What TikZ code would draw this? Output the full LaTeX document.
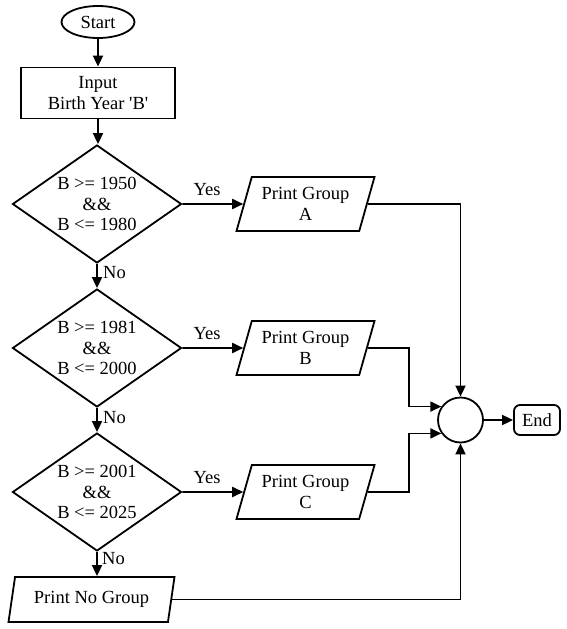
\documentclass[tikz,border=0pt]{standalone}
\usepackage{fontspec}
\setmainfont{Liberation Serif}
\usetikzlibrary{shapes.geometric,arrows.meta,calc}
\begin{document}
\begin{tikzpicture}[x=1pt,y=-1pt,
  every node/.style={font=\fontsize{18.5}{20.5}\selectfont, align=center},
  base/.style={draw, line width=1.8pt, inner sep=0pt},
  term/.style={base, ellipse, minimum width=73pt, minimum height=32pt},
  procbox/.style={base, rectangle, minimum width=154pt, minimum height=51pt},
  decision/.style={base, diamond, aspect=1.43, inner sep=-6pt, minimum width=169pt, minimum height=118pt},
  io/.style={base, trapezium, trapezium left angle=65, trapezium right angle=115,
    trapezium stretches body, minimum height=54pt, minimum width=138pt},
  ionone/.style={base, trapezium, trapezium left angle=68, trapezium right angle=112,
    trapezium stretches body, minimum height=45pt, minimum width=166pt},
  joinc/.style={base, circle, minimum size=45pt},
  endbox/.style={base, rectangle, rounded corners=6pt, minimum width=46pt, minimum height=30pt},
  conn/.style={line width=1.8pt, -{Triangle[length=11pt,width=10pt]}},
  lbl/.style={inner sep=0pt}
]
\useasboundingbox (0,0) rectangle (566,629);

\node[term] (start) at (98,22) {Start};
\node[procbox] (input) at (98,93) {Input\\Birth Year \textquotesingle B\textquotesingle};
\node[decision] (d1) at (97,204) {B >= 1950\\\&\&\\B <= 1980};
\node[decision] (d2) at (97,348) {B >= 1981\\\&\&\\B <= 2000};
\node[decision] (d3) at (97,492) {B >= 2001\\\&\&\\B <= 2025};
\node[io] (pA) at (305.5,204) {Print Group\\A};
\node[io] (pB) at (305.5,348) {Print Group\\B};
\node[io] (pC) at (305.5,492) {Print Group\\C};
\node[ionone] (pn) at (91.5,599.5) {Print No Group};
\node[joinc] (circ) at (460.5,420) {};
\node[endbox] (end) at (537,420) {End};

\coordinate (jB) at (409,0);

\draw[conn] (start) -- (input);
\draw[conn] (input.south) -- (input.south |- d1.north);
\draw[conn] (d1) -- (d2);
\draw[conn] (d2) -- (d3);
\draw[conn] (d3.south) -- (d3.south |- pn.north);

\draw[conn] (d1.east) -- (pA.west);
\draw[conn] (d2.east) -- (pB.west);
\draw[conn] (d3.east) -- (pC.west);

\node[lbl] (y1) at (207,190) {Yes};
\node[lbl] (y2) at (207,334) {Yes};
\node[lbl] (y3) at (207,478) {Yes};
\node[lbl, anchor=west] (n1) at (103,273) {No};
\node[lbl, anchor=west] (n2) at (103,418) {No};
\node[lbl, anchor=west] (n3) at (102,559) {No};

\draw[conn] (pA.east) -| (circ.north);
\draw[conn] (pB.east) -| (jB |- circ.145) -- (circ.145);
\draw[conn] (pC.east) -| (jB |- circ.215) -- (circ.215);
\draw[conn] (pn.east) -| (circ.south);
\draw[conn] (circ) -- (end);
\end{tikzpicture}
\end{document}
